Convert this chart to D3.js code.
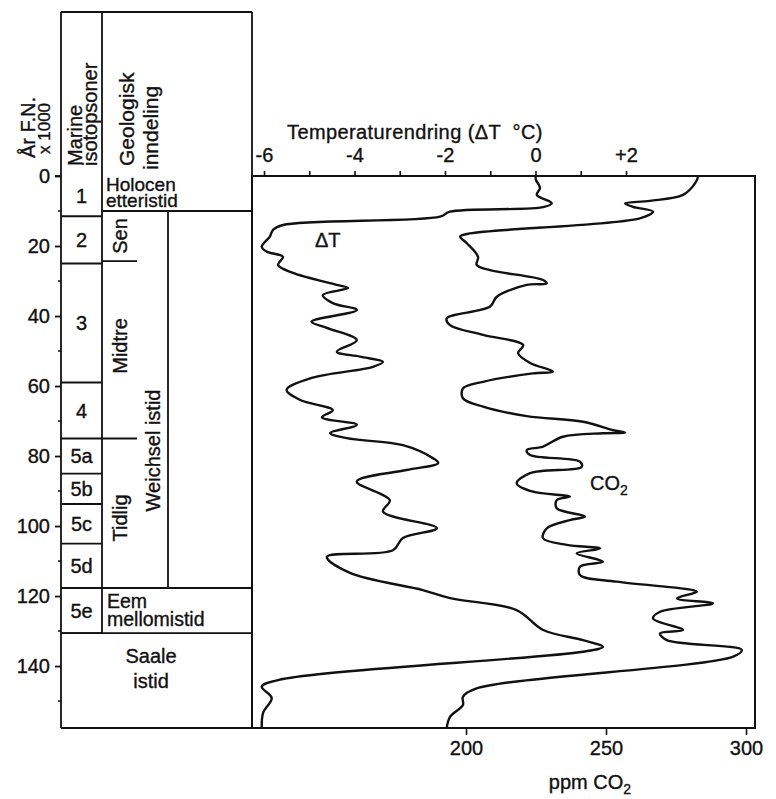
<!DOCTYPE html>
<html>
<head>
<meta charset="utf-8">
<script src="https://cdn.jsdelivr.net/npm/d3@7/dist/d3.min.js"></script>
<style>
  body { margin: 0; background: #fff; }
  svg text { font-family: "Liberation Sans", Arial, Helvetica, sans-serif; fill: #111; stroke: #111; stroke-width: 0.35px; }
</style>
</head>
<body>
<div id="chart"></div>
<script>
// ΔT curve (ages in 1000 yr BP, temperature change in °C)
let tempAge = [0, 1.1, 3.4, 5.4, 7.8, 8.9, 10.2, 11.6, 14.0, 15.4, 17.3, 20.2, 21.6, 23.1, 25.4, 27.7,
  31.1, 32.0, 34.0, 36.3, 38.3, 41.6, 43.4, 46.9, 50.2, 51.6, 53.1, 54.5, 57.7, 61.1, 64.0, 66.9,
  68.9, 71.1, 73.4, 74.9, 76.9, 80.6, 82.0, 84.0, 87.3, 92.6, 95.9, 100.6, 103.4, 106.9, 108.8,
  113.4, 118.3, 120.6, 124.0, 129.7, 132.6, 134.5, 135.9, 143.7, 145.9, 149.1, 153.4, 157.7]
let tempVal = [0.0, 0.01, 0.1, 0.03, 0.36, 0.17, -1.89, -2.11, -5.58, -5.80, -5.87, -6.05, -5.94, -5.58, -5.69, -5.36,
  -4.39, -4.14, -4.70, -4.48, -3.95, -4.95, -4.61, -3.95, -4.39, -3.88, -3.37, -3.59, -4.95, -5.50, -5.20, -4.48,
  -4.72, -3.95, -4.54, -4.17, -2.93, -2.27, -2.15, -2.85, -3.95, -3.22, -3.37, -2.18, -2.93, -3.15, -4.61,
  -4.10, -2.49, -1.89, -0.42, 0.17, 1.05, 1.49, 1.05, -5.58, -6.05, -5.83, -6.02, -6.05]

// CO2 curve (ages in 1000 yr BP, ppm)
let co2Age = [0, 2.1, 5.4, 7.1, 7.8, 8.8, 10.2, 12.1, 16.4, 17.3, 19.2, 23.1, 25.4, 26.9, 29.7, 30.7,
  31.1, 34.5, 37.3, 40.7, 42.6, 45.4, 48.3, 50.6, 53.4, 55.9, 56.4, 58.8, 60.7, 63.5, 65.9, 68.6,
  70.2, 72.6, 73.3, 73.5, 74.5, 77.3, 78.3, 79.7, 81.6, 83.1, 84.9, 87.8, 90.2, 91.6, 92.6, 94.9,
  97.3, 98.3, 100.7, 103.5, 105.4, 106.4, 107.8, 110.2, 111.6, 114.0, 115.9, 118.3, 118.8, 120.7,
  122.1, 124.5, 126.4, 129.7, 130.7, 132.6, 135.4, 137.3, 146.4, 148.8, 151.1, 154.5, 157.7]
let co2Val = [283, 281.8, 277.5, 265.7, 256.8, 259.6, 266.8, 262.1, 201.4, 197.9, 200.3, 204.3, 203.8, 208.6, 227.5, 228.8,
  221.7, 211.0, 208.6, 193.1, 194.3, 206.1, 220.4, 218.6, 222.9, 231.1, 223.9, 206.1, 198.9, 198.9, 206.1, 221.7,
  241.8, 252.5, 256.8, 248.9, 234.6, 227.5, 221.7, 222.9, 240.7, 241.3, 222.9, 218.1, 223.9, 237.1, 232.4, 232.4,
  242.5, 237.1, 228.8, 227.5, 236.0, 247.9, 239.5, 248.9, 240.7, 240.7, 253.8, 281.1, 282.4, 275.3,
  288.2, 269.3, 266.8, 277.5, 269.3, 271.7, 298.5, 295.4, 203.8, 198.9, 198.9, 194.3, 193.1]

// axis ticks
let ageTicks = [0, 20, 40, 60, 80, 100, 120, 140]
let ageMinor = [10, 30, 50, 70, 90, 110, 130, 150]
let tempTicks = [-6, -5, -4, -3, -2, -1, 0, 1, 2]
let tempLabels = ["-6", "", "-4", "", "-2", "", "0", "", "+2"]
let co2Ticks = [200, 250, 300]

// table: marine isotope zones and geological division
let isoNames = ["1", "2", "3", "4", "5a", "5b", "5c", "5d", "5e"]
let isoBounds = [0, 11.5, 25, 59, 75, 85, 93.7, 105, 117.7, 130.6]
let subNames = ["Sen", "Midtre", "Tidlig"]
let subBounds = [10, 24.3, 75, 117.7]
let holocene = [0, 10]
let weichsel = [10, 117.7]
let eem = [117.7, 130.6]
let saale = [130.6, 157.7]

let width = 776, height = 799

let svg = d3.select("#chart").append("svg")
    .attr("width", width)
    .attr("height", height)

svg.append("rect").attr("width", width).attr("height", height).attr("fill", "#fff")

// columns of the table and plot box
let colA = 61, colB = 102, colSub = 137, colW = 168, colC = 252, plotRight = 755, headTop = 12

let y = d3.scaleLinear().domain([0, 157.7]).range([176, 728])
let xT = d3.scaleLinear().domain([-6, 2]).range([264, 626])
let xC = d3.scaleLinear().domain([200, 300]).range([466, 746])

let ink = "#111"
let fs = 20
let lines = svg.append("g").attr("stroke", ink).attr("stroke-width", 1.8).attr("fill", "none")

function hline(x1, x2, age) {
  lines.append("line").attr("x1", x1).attr("x2", x2).attr("y1", y(age)).attr("y2", y(age))
}
function vline(x, y1, y2) {
  lines.append("line").attr("x1", x).attr("x2", x).attr("y1", y1).attr("y2", y2)
}

// header box
lines.append("line").attr("x1", colA).attr("x2", colC).attr("y1", headTop).attr("y2", headTop)
vline(colA, headTop, y(157.7))
vline(colB, headTop, y(saale[0]))
vline(colC, headTop, y(157.7))

// isotope zone boundaries
isoBounds.slice(1).forEach(b => hline(colA, colB, b))
// geological boundaries
hline(colB, colC, holocene[1])
subBounds.slice(1, 3).forEach(b => hline(colB, colSub, b))
hline(colB, colC, eem[0])
hline(colA, colC, saale[0])
vline(colW, y(weichsel[0]), y(weichsel[1]))
hline(colA, colC, saale[1])

// plot box
svg.append("rect")
    .attr("x", colC).attr("y", y(0))
    .attr("width", plotRight - colC).attr("height", y(157.7) - y(0))
    .attr("fill", "none").attr("stroke", ink).attr("stroke-width", 2)

// left axis (age)
let yAxis = svg.append("g")
    .attr("transform", `translate(${colA},0)`)
    .call(d3.axisLeft(y).tickValues(ageTicks).tickSize(6).tickPadding(5).tickFormat(d => String(d)))
yAxis.select(".domain").remove()
yAxis.selectAll(".tick line").attr("stroke", ink).attr("stroke-width", 1.8)
yAxis.selectAll("text").attr("font-size", fs).attr("fill", ink)
yAxis.append("g").selectAll("line").data(ageMinor).enter().append("line")
    .attr("x1", -3).attr("x2", 0)
    .attr("y1", d => y(d)).attr("y2", d => y(d))
    .attr("stroke", ink).attr("stroke-width", 1.5)
hline(colA - 6, colA, 0)

// top axis (temperature)
let tAxis = svg.append("g")
    .attr("transform", `translate(0,${y(0)})`)
    .call(d3.axisTop(xT).tickValues(tempTicks).tickSize(5).tickPadding(9)
      .tickFormat((d, i) => tempLabels[i]))
tAxis.select(".domain").remove()
tAxis.selectAll(".tick line").attr("stroke", ink).attr("stroke-width", 1.6)
tAxis.selectAll("text").attr("font-size", fs).attr("fill", ink)

// bottom axis (CO2)
let cAxis = svg.append("g")
    .attr("transform", `translate(0,${y(157.7)})`)
    .call(d3.axisBottom(xC).tickValues(co2Ticks).tickSize(7).tickPadding(6).tickFormat(d => String(d)))
cAxis.select(".domain").remove()
cAxis.selectAll(".tick line").attr("stroke", ink).attr("stroke-width", 1.6)
cAxis.selectAll("text").attr("font-size", fs).attr("fill", ink)

// curves
let tempLine = d3.line()
    .x(d => xT(d[1]))
    .y(d => y(d[0]))
    .curve(d3.curveCatmullRom.alpha(0.5))
let co2Line = d3.line()
    .x(d => xC(d[1]))
    .y(d => y(d[0]))
    .curve(d3.curveCatmullRom.alpha(0.5))

svg.append("path")
    .datum(d3.zip(tempAge, tempVal))
    .attr("d", tempLine)
    .attr("fill", "none").attr("stroke", ink).attr("stroke-width", 2.4)
svg.append("path")
    .datum(d3.zip(co2Age, co2Val))
    .attr("d", co2Line)
    .attr("fill", "none").attr("stroke", ink).attr("stroke-width", 2.4)

// two-line labels, rotated (header) or flat (table cells)
function rotText2(x, yBottom, gap, strs, sizes) {
  let t = svg.append("text")
    .attr("transform", `translate(${x},${yBottom}) rotate(-90)`)
  strs.forEach((s, i) => t.append("tspan")
    .attr("x", i == 0 ? 0 : gap[1]).attr("y", i == 0 ? 0 : gap[0])
    .attr("font-size", sizes[i]).text(s))
}
function flatText2(x, yBase, gap, strs, anchor, size) {
  let t = svg.append("text").attr("font-size", size || fs).attr("text-anchor", anchor || "start")
  strs.forEach((s, i) => t.append("tspan").attr("x", x).attr("y", yBase + i * gap).text(s))
}
function rotMid(x, yMid, str) {
  svg.append("text")
    .attr("transform", `translate(${x},${yMid}) rotate(-90)`)
    .attr("text-anchor", "middle")
    .attr("font-size", fs)
    .text(str)
}

// [dx across lines, shift along text] for the second line
rotText2(35, 158, [15, 4], ["År F.N.", "x 1000"], [20, 17])
rotText2(82, 166, [15, 0], ["Marine", "isotopsoner"], [20, 20])
rotText2(134, 166, [24, -4], ["Geologisk", "inndeling"], [21, 21])

svg.append("g").selectAll("text")
    .data(isoNames)
    .enter().append("text")
    .attr("x", (colA + colB) / 2)
    .attr("y", (d, i) => (y(isoBounds[i]) + y(isoBounds[i + 1])) / 2)
    .attr("dy", "0.36em")
    .attr("text-anchor", "middle")
    .attr("font-size", fs)
    .text(d => d)

let subMid = [236, 346, 518]
subNames.forEach((n, i) => rotMid(127, subMid[i], n))
rotMid(160, (y(weichsel[0]) + y(weichsel[1])) / 2 + 51, "Weichsel istid")

flatText2(106, y(holocene[0]) + 15, 16, ["Holocen", "etteristid"], "start", 19)
flatText2(107, y(eem[0]) + 20, 18, ["Eem", "mellomistid"], "start", 19.5)
flatText2(151, y(saale[0]) + 30, 25, ["Saale", "istid"], "middle")

svg.append("text").attr("x", 287).attr("y", 139).attr("font-size", fs).attr("letter-spacing", 0.4)
    .attr("xml:space", "preserve").text("Temperaturendring (ΔT  °C)")

svg.append("text").attr("x", 315).attr("y", 247).attr("font-size", fs).text("ΔT")
let co2Label = svg.append("text").attr("x", 590).attr("y", 490).attr("font-size", fs)
co2Label.append("tspan").text("CO")
co2Label.append("tspan").attr("font-size", 14).attr("dy", 5).text("2")

let ppm = svg.append("text").attr("x", 590).attr("y", 789).attr("text-anchor", "middle").attr("font-size", fs)
ppm.append("tspan").text("ppm CO")
ppm.append("tspan").attr("font-size", 14).attr("dy", 5).text("2")
</script>
</body>
</html>
